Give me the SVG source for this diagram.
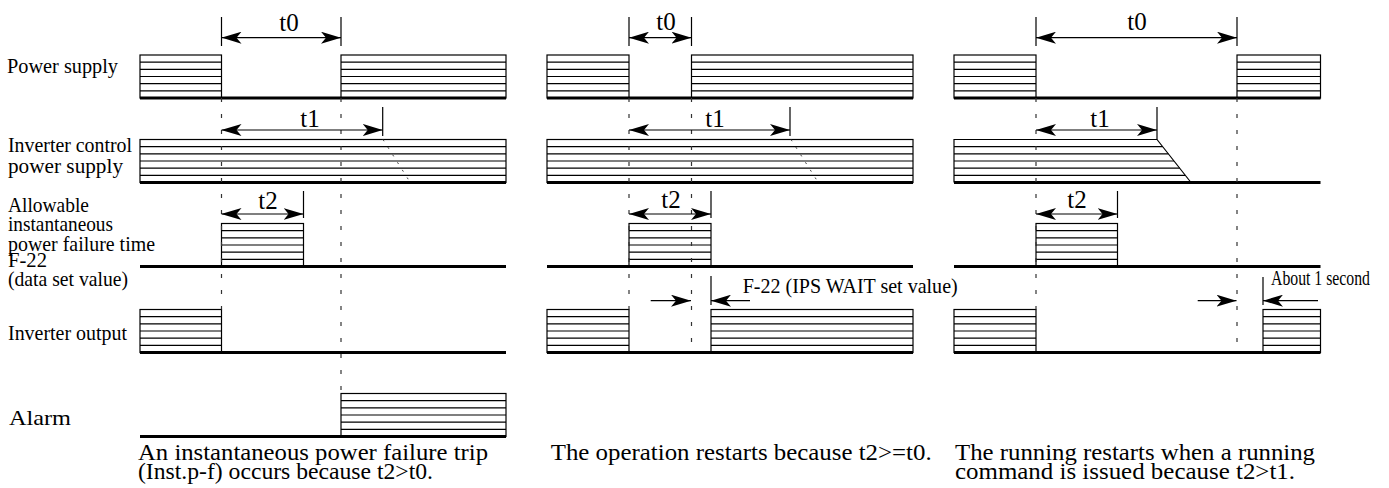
<svg xmlns="http://www.w3.org/2000/svg" width="1389" height="488" viewBox="0 0 1389 488">
<style>
.box{fill:#fff;stroke:#000;stroke-width:1.2}
.st{fill:none;stroke:#000;stroke-width:1.2}
.base{fill:none;stroke:#000;stroke-width:2.8}
.tick{fill:none;stroke:#000;stroke-width:1.2}
.dash{fill:none;stroke:#333;stroke-width:1.2;stroke-dasharray:4 12}
.dot{fill:none;stroke:#444;stroke-width:1;stroke-dasharray:2 7}
.dim{fill:none;stroke:#000;stroke-width:1.2;marker-start:url(#ah);marker-end:url(#ah)}
.one{fill:none;stroke:#000;stroke-width:1.2;marker-end:url(#ah)}
.lbl{font-family:"Liberation Serif","Times New Roman",Times,serif;font-size:22px;fill:#000}
.tl{font-family:"Liberation Serif","Times New Roman",Times,serif;font-size:25px;fill:#000;text-anchor:middle}
.cap{font-family:"Liberation Serif","Times New Roman",Times,serif;font-size:24px;fill:#000}
</style>
<defs>
<marker id="ah" markerUnits="userSpaceOnUse" markerWidth="20" markerHeight="12" viewBox="0 0 20 12" refX="20" refY="6" orient="auto-start-reverse">
<path d="M20,6 L0,0 L5,6 L0,12 Z" fill="#000"/>
</marker>
</defs>
<rect width="1389" height="488" fill="#fff"/>

<g id="labels">
<text class="lbl" x="7" y="72.5" textLength="111" lengthAdjust="spacingAndGlyphs">Power supply</text>
<text class="lbl" x="8" y="151.5" textLength="124" lengthAdjust="spacingAndGlyphs">Inverter control</text>
<text class="lbl" x="8" y="173" textLength="115" lengthAdjust="spacingAndGlyphs">power supply</text>
<text class="lbl" x="8" y="211.5" textLength="81" lengthAdjust="spacingAndGlyphs">Allowable</text>
<text class="lbl" x="8" y="231" textLength="105" lengthAdjust="spacingAndGlyphs">instantaneous</text>
<text class="lbl" x="8" y="251" textLength="147" lengthAdjust="spacingAndGlyphs">power failure time</text>
<text class="lbl" x="8" y="267" textLength="39" lengthAdjust="spacingAndGlyphs">F-22</text>
<text class="lbl" x="8" y="286" textLength="120" lengthAdjust="spacingAndGlyphs">(data set value)</text>
<text class="lbl" x="8" y="340" textLength="119" lengthAdjust="spacingAndGlyphs">Inverter output</text>
<text class="lbl" x="9" y="425" textLength="62" lengthAdjust="spacingAndGlyphs">Alarm</text>
</g>

<!-- Row 1: Power supply -->
<g id="row-power" transform="translate(0,55)">
<rect class="box" x="140" y="0" width="81.5" height="43"/>
<rect class="box" x="341" y="0" width="165" height="43"/>
<rect class="box" x="547" y="0" width="82" height="43"/>
<rect class="box" x="691.5" y="0" width="221.5" height="43"/>
<rect class="box" x="954" y="0" width="82" height="43"/>
<rect class="box" x="1237" y="0" width="83.5" height="43"/>
<path class="st" d="M140 7.17H221.5M140 14.33H221.5M140 21.5H221.5M140 28.67H221.5M140 35.83H221.5M341 7.17H506M341 14.33H506M341 21.5H506M341 28.67H506M341 35.83H506M547 7.17H629M547 14.33H629M547 21.5H629M547 28.67H629M547 35.83H629M691.5 7.17H913M691.5 14.33H913M691.5 21.5H913M691.5 28.67H913M691.5 35.83H913M954 7.17H1036M954 14.33H1036M954 21.5H1036M954 28.67H1036M954 35.83H1036M1237 7.17H1320.5M1237 14.33H1320.5M1237 21.5H1320.5M1237 28.67H1320.5M1237 35.83H1320.5"/>
<path class="base" d="M140 43H506M547 43H913M954 43H1320.5"/>
</g>

<!-- Row 2: Inverter control power supply -->
<g id="row-control" transform="translate(0,139.5)">
<rect class="box" x="140" y="0" width="366" height="43"/>
<rect class="box" x="547" y="0" width="366" height="43"/>
<path class="box" d="M954 43V0H1157L1191 43"/>
<path class="st" d="M140 7.17H506M140 14.33H506M140 21.5H506M140 28.67H506M140 35.83H506M547 7.17H913M547 14.33H913M547 21.5H913M547 28.67H913M547 35.83H913M954 7.17H1162.7M954 14.33H1168.3M954 21.5H1174M954 28.67H1179.7M954 35.83H1185.3"/>
<path class="base" d="M140 43H506M547 43H913M954 43H1320.5"/>
<path class="dot" d="M383 0L409 41M791 0L817 41"/>
</g>

<!-- Row 3: Allowable instantaneous power failure time -->
<g id="row-allowable" transform="translate(0,223.5)">
<rect class="box" x="221.5" y="0" width="82" height="43"/>
<rect class="box" x="629" y="0" width="82" height="43"/>
<rect class="box" x="1036" y="0" width="81.5" height="43"/>
<path class="st" d="M221.5 7.17H303.5M221.5 14.33H303.5M221.5 21.5H303.5M221.5 28.67H303.5M221.5 35.83H303.5M629 7.17H711M629 14.33H711M629 21.5H711M629 28.67H711M629 35.83H711M1036 7.17H1117.5M1036 14.33H1117.5M1036 21.5H1117.5M1036 28.67H1117.5M1036 35.83H1117.5"/>
<path class="base" d="M140 43H506M547 43H913M954 43H1320.5"/>
</g>

<!-- Row 4: Inverter output -->
<g id="row-output" transform="translate(0,309.5)">
<rect class="box" x="140" y="0" width="81.5" height="43"/>
<rect class="box" x="547" y="0" width="82" height="43"/>
<rect class="box" x="711" y="0" width="202" height="43"/>
<rect class="box" x="954" y="0" width="82" height="43"/>
<rect class="box" x="1263" y="0" width="57.5" height="43"/>
<path class="st" d="M140 7.17H221.5M140 14.33H221.5M140 21.5H221.5M140 28.67H221.5M140 35.83H221.5M547 7.17H629M547 14.33H629M547 21.5H629M547 28.67H629M547 35.83H629M711 7.17H913M711 14.33H913M711 21.5H913M711 28.67H913M711 35.83H913M954 7.17H1036M954 14.33H1036M954 21.5H1036M954 28.67H1036M954 35.83H1036M1263 7.17H1320.5M1263 14.33H1320.5M1263 21.5H1320.5M1263 28.67H1320.5M1263 35.83H1320.5"/>
<path class="base" d="M140 43H506M547 43H913M954 43H1320.5"/>
</g>

<!-- Row 5: Alarm -->
<g id="row-alarm" transform="translate(0,393.5)">
<rect class="box" x="341" y="0" width="165" height="43"/>
<path class="st" d="M341 7.17H506M341 14.33H506M341 21.5H506M341 28.67H506M341 35.83H506"/>
<path class="base" d="M140 43H506"/>
</g>

<g id="connectors">
<path class="dash" d="M221.5 98V309.5M341 98V393.5M629 98V309.5M691.5 98V352.5M1036 98V309.5M1237 98V352.5"/>
<path class="tick" d="M221.5 17V46M341 17V46M382.7 107V136M303.5 191V218M629 17V46M691.5 17V46M790 107V136M711 191V218M1036 17V46M1237 17V46M1157 107V139.5M1117.5 191V218M711 276V305M1263 277V305"/>
<line class="dim" x1="221.5" y1="37.7" x2="341" y2="37.7"/>
<line class="dim" x1="221.5" y1="130" x2="382.7" y2="130"/>
<line class="dim" x1="221.5" y1="214" x2="303.5" y2="214"/>
<line class="dim" x1="629" y1="37.7" x2="691.5" y2="37.7"/>
<line class="dim" x1="629" y1="130" x2="790" y2="130"/>
<line class="dim" x1="629" y1="214" x2="711" y2="214"/>
<line class="dim" x1="1036" y1="37.7" x2="1237" y2="37.7"/>
<line class="dim" x1="1036" y1="130" x2="1157" y2="130"/>
<line class="dim" x1="1036" y1="214" x2="1117.5" y2="214"/>
<line class="one" x1="650.7" y1="300.7" x2="691" y2="300.7"/>
<line class="one" x1="750" y1="300.7" x2="711" y2="300.7"/>
<line class="one" x1="1197.7" y1="300.7" x2="1236.5" y2="300.7"/>
<line class="one" x1="1318" y1="300.7" x2="1263" y2="300.7"/>
</g>

<g id="time-labels">
<text class="tl" x="289" y="31">t0</text>
<text class="tl" x="310" y="126.5">t1</text>
<text class="tl" x="268" y="209">t2</text>
<text class="tl" x="666" y="29.5">t0</text>
<text class="tl" x="715" y="126.5">t1</text>
<text class="tl" x="671" y="208">t2</text>
<text class="tl" x="1137" y="30">t0</text>
<text class="tl" x="1100" y="126.5">t1</text>
<text class="tl" x="1077" y="208">t2</text>
<text class="lbl" x="742.7" y="292.7" font-size="20" textLength="215" lengthAdjust="spacingAndGlyphs">F-22 (IPS WAIT set value)</text>
<text class="lbl" x="1271" y="285" font-size="16" textLength="99" lengthAdjust="spacingAndGlyphs">About 1 second</text>
</g>

<g id="captions">
<text class="cap" x="138" y="460" textLength="350" lengthAdjust="spacingAndGlyphs">An instantaneous power failure trip</text>
<text class="cap" x="138" y="479" textLength="295" lengthAdjust="spacingAndGlyphs">(Inst.p-f) occurs because t2&gt;t0.</text>
<text class="cap" x="550.7" y="460" textLength="381" lengthAdjust="spacingAndGlyphs">The operation restarts because t2&gt;=t0.</text>
<text class="cap" x="955" y="460" textLength="360" lengthAdjust="spacingAndGlyphs">The running restarts when a running</text>
<text class="cap" x="955" y="479" textLength="340" lengthAdjust="spacingAndGlyphs">command is issued because t2&gt;t1.</text>
</g>
</svg>
